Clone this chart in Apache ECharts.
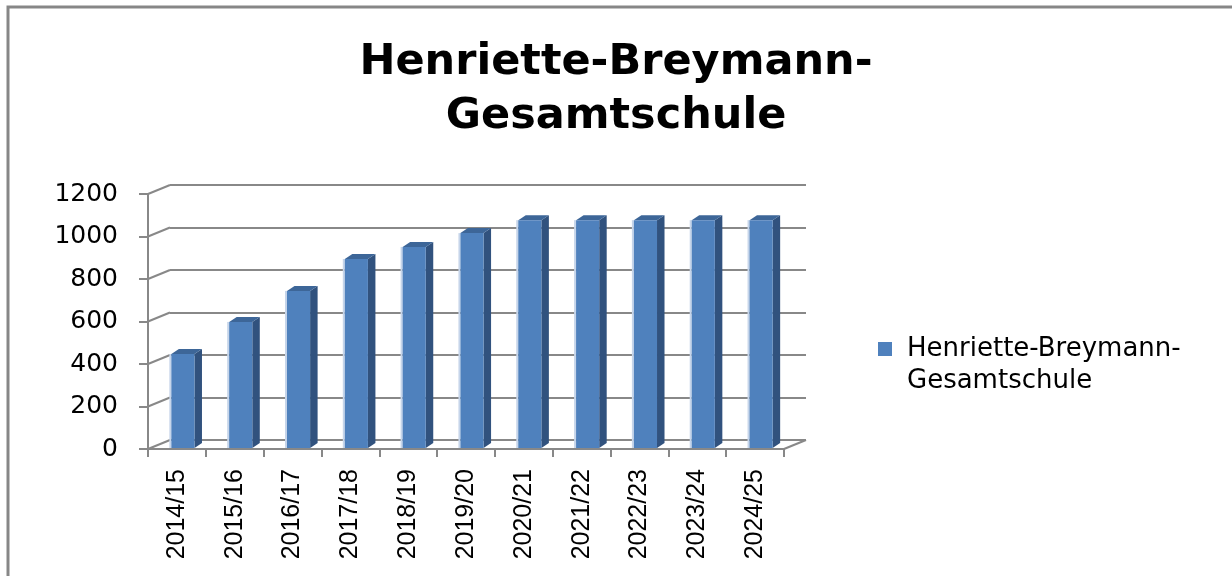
<!DOCTYPE html>
<html>
<head>
<meta charset="utf-8">
<title>Henriette-Breymann-Gesamtschule</title>
<script src="https://cdn.jsdelivr.net/npm/echarts@6/dist/echarts.min.js"></script>
<style>
  html, body { margin: 0; padding: 0; background: #fff; }
  #chart { width: 1232px; height: 576px; }
</style>
</head>
<body>
<div id="chart"></div>
<script>
// school years and pupil numbers
var years = ["2014/15", "2015/16", "2016/17", "2017/18", "2018/19", "2019/20",
  "2020/21", "2021/22", "2022/23", "2023/24", "2024/25"];
var pupils = [447, 598, 744, 894, 951, 1016, 1077, 1077, 1077, 1077, 1077];
var yTicks = [0, 200, 400, 600, 800, 1000, 1200];
var seriesName = "Henriette-Breymann-Gesamtschule";

// 3d look: depth of the walls and of the bars
var WALL_DX = 22, WALL_DY = 9;
var BAR_DX = 7.5, BAR_DY = 5, BAR_SHIFT = 6;
var gridColor = "#888888";

var chart = echarts.init(document.getElementById("chart"));

var option = {
  backgroundColor: "#fff",
  animation: false,
  title: {
    text: "Henriette-Breymann-\nGesamtschule",
    left: "center",
    top: 36,
    padding: 0,
    textStyle: {
      fontFamily: "DejaVu Sans",
      fontWeight: "bold",
      fontSize: 43,
      lineHeight: 54,
      color: "#000"
    }
  },
  legend: {
    data: [seriesName],
    orient: "vertical",
    left: 878,
    top: 301,
    padding: 0,
    icon: "rect",
    itemWidth: 14,
    itemHeight: 14,
    // leading blank line keeps the marker level with the first text line
    formatter: function () { return "\nHenriette-Breymann-\nGesamtschule"; },
    textStyle: {
      fontFamily: "DejaVu Sans",
      fontSize: 26,
      lineHeight: 32,
      padding: [0, 0, 0, 10],
      color: "#000"
    }
  },
  grid: [
    // front plane: axes and labels
    { left: 148, width: 636, top: 194, height: 255 },
    // back wall: gridlines
    { left: 148 + WALL_DX, width: 636, top: 194 - WALL_DY, height: 255 }
  ],
  xAxis: [
    {
      gridIndex: 0,
      type: "category",
      data: years,
      boundaryGap: true,
      axisLine: { show: true, lineStyle: { color: gridColor, width: 2 } },
      axisTick: { show: true, length: 8, lineStyle: { color: gridColor, width: 2 } },
      axisLabel: {
        rotate: 90,
        margin: 20,
        interval: 0,
        fontFamily: "Liberation Sans",
        fontSize: 25,
        color: "#000"
      },
      splitLine: { show: false }
    },
    {
      gridIndex: 1,
      type: "value",
      min: 0,
      max: 1,
      show: false
    }
  ],
  yAxis: [
    {
      gridIndex: 0,
      type: "value",
      min: 0,
      max: 1200,
      interval: 200,
      axisLine: { show: true, lineStyle: { color: gridColor, width: 2 } },
      axisTick: { show: true, length: 9, lineStyle: { color: gridColor, width: 2 } },
      axisLabel: {
        margin: 30,
        fontFamily: "DejaVu Sans",
        fontSize: 25,
        color: "#000",
        formatter: function (v) { return String(v); }
      },
      splitLine: { show: false }
    },
    {
      gridIndex: 1,
      type: "value",
      min: 0,
      max: 1200,
      interval: 200,
      axisLine: { show: false },
      axisTick: { show: false },
      axisLabel: { show: false },
      splitLine: { show: true, lineStyle: { color: gridColor, width: 2 } }
    }
  ],
  graphic: [
    {
      type: "rect",
      silent: true,
      shape: { x: 8, y: 7, width: 1400, height: 800 },
      style: { fill: "none", stroke: "#878787", lineWidth: 3 }
    }
  ],
  series: [
    {
      // slanted wall edges from the front axis to the back gridlines
      name: "walls",
      type: "custom",
      xAxisIndex: 1,
      yAxisIndex: 1,
      silent: true,
      data: yTicks.map(function (v) { return [0, v]; }),
      renderItem: function (params, api) {
        var p = api.coord([0, api.value(1)]);
        var lineStyle = { stroke: gridColor, lineWidth: 2 };
        var children = [{
          type: "line",
          shape: { x1: p[0], y1: p[1], x2: p[0] - WALL_DX, y2: p[1] + WALL_DY },
          style: lineStyle
        }];
        if (api.value(1) === 0) {
          var q = api.coord([1, 0]);
          children.push({
            type: "line",
            shape: { x1: q[0], y1: q[1], x2: q[0] - WALL_DX, y2: q[1] + WALL_DY },
            style: lineStyle
          });
        }
        return { type: "group", children: children };
      }
    },
    {
      name: seriesName,
      type: "custom",
      xAxisIndex: 0,
      yAxisIndex: 0,
      itemStyle: { color: "#4f81bd" },
      data: pupils.map(function (v, i) { return [i, v]; }),
      renderItem: function (params, api) {
        var top = api.coord([api.value(0), api.value(1)]);
        var base = api.coord([api.value(0), 0]);
        var band = api.size([1, 0])[0];
        var w = band * 0.40;
        var l = top[0] - w / 2 + BAR_SHIFT;
        var r = l + w;
        var t = top[1];
        var b = base[1] - 1;
        return {
          type: "group",
          children: [
            {
              type: "rect",
              shape: { x: l - 2, y: t, width: 2, height: b - t },
              style: { fill: "#c6d5ea" }
            },
            {
              type: "polygon",
              shape: { points: [[r, t], [r + BAR_DX, t - BAR_DY], [r + BAR_DX, b - BAR_DY], [r, b]] },
              style: { fill: "#31527e" }
            },
            {
              type: "polygon",
              shape: { points: [[l, t], [r, t], [r + BAR_DX, t - BAR_DY], [l + BAR_DX, t - BAR_DY]] },
              style: { fill: "#3d6698" }
            },
            {
              type: "rect",
              shape: { x: l, y: t, width: w, height: b - t },
              style: { fill: "#4f81bd" }
            }
          ]
        };
      }
    }
  ]
};

chart.setOption(option);
</script>
</body>
</html>
